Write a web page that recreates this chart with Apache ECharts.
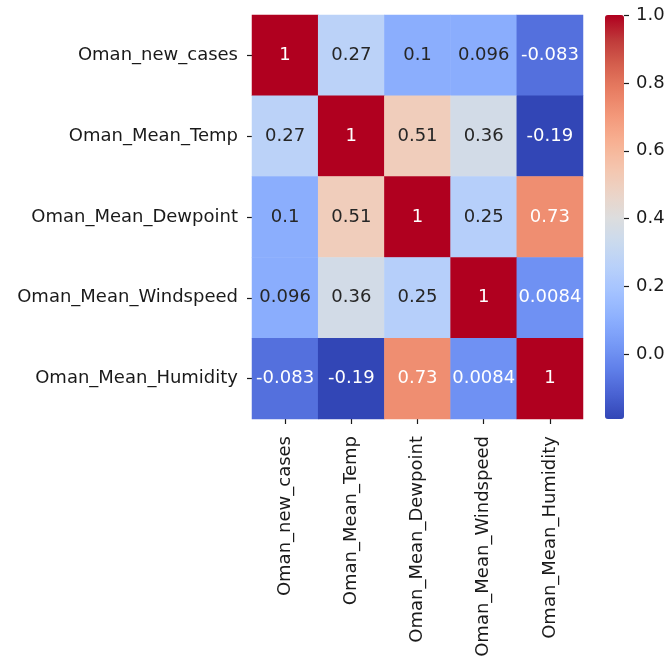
<!DOCTYPE html>
<html>
<head>
<meta charset="utf-8">
<script src="https://cdn.jsdelivr.net/npm/echarts@6/dist/echarts.min.js"></script>
<style>
  html, body { margin: 0; padding: 0; background: #fff; }
  #chart { width: 670px; height: 663px; }
</style>
</head>
<body>
<div id="chart"></div>
<script>
// Variables of the correlation matrix (same order on both axes)
const variables = [
  'Oman_new_cases',
  'Oman_Mean_Temp',
  'Oman_Mean_Dewpoint',
  'Oman_Mean_Windspeed',
  'Oman_Mean_Humidity'
];

// One row of correlation coefficients per variable
const rowNewCases  = [1,      0.27,  0.1,   0.096,  -0.083];
const rowMeanTemp  = [0.27,   1,     0.51,  0.36,   -0.19];
const rowDewpoint  = [0.1,    0.51,  1,     0.25,   0.73];
const rowWindspeed = [0.096,  0.36,  0.25,  1,      0.0084];
const rowHumidity  = [-0.083, -0.19, 0.73,  0.0084, 1];
const matrixRows = [rowNewCases, rowMeanTemp, rowDewpoint, rowWindspeed, rowHumidity];

// Colour bar ticks
const colorbarTicks = [0.0, 0.2, 0.4, 0.6, 0.8, 1.0];

// Diverging "coolwarm" palette, evenly spaced from low to high
const coolwarm = [
  '#3246b6', '#4a63d3', '#6080ea', '#779af7', '#8db0fe', '#a3c2ff',
  '#b8d0fa', '#cadaee', '#dddddd', '#ecd3c5', '#f5c4ac', '#f7b092',
  '#f3987a', '#e87e63', '#d5604e', '#bf3a3a', '#b0001f'
];

const allValues = matrixRows.flat();
const vmin = Math.min(...allValues);
const vmax = Math.max(...allValues);
const n = variables.length;
const cellIndex = variables.map((_, i) => i);

function hexToRgb(h) {
  return [parseInt(h.slice(1, 3), 16), parseInt(h.slice(3, 5), 16), parseInt(h.slice(5, 7), 16)];
}
function colorFor(v) {
  const t = Math.max(0, Math.min(1, (v - vmin) / (vmax - vmin))) * (coolwarm.length - 1);
  const i = Math.min(Math.floor(t), coolwarm.length - 2);
  const f = t - i;
  const a = hexToRgb(coolwarm[i]), b = hexToRgb(coolwarm[i + 1]);
  return a.map((c, k) => c + (b[k] - c) * f);
}
function luminance(rgb) {
  const lin = rgb.map(c => {
    c /= 255;
    return c <= 0.03928 ? c / 12.92 : Math.pow((c + 0.055) / 1.055, 2.4);
  });
  return 0.2126 * lin[0] + 0.7152 * lin[1] + 0.0722 * lin[2];
}

const cells = [];
matrixRows.forEach((row, r) => {
  row.forEach((v, c) => {
    const textColor = luminance(colorFor(v)) > 0.408 ? '#262626' : '#ffffff';
    cells.push({ value: [c, r, v], label: { color: textColor } });
  });
});

const FONT = 'DejaVu Sans';
const TEXT = '#1a1a1a';
const tick = (values) => ({
  show: true, inside: true, length: 5, customValues: values,
  lineStyle: { color: TEXT, width: 1.2 }
});
const chart = echarts.init(document.getElementById('chart'), null, { renderer: 'canvas' });

chart.setOption({
  backgroundColor: '#ffffff',
  animation: false,
  grid: [
    { left: 252, top: 15, width: 331, height: 404 },   // matrix
    { left: 605, top: 15, width: 19, height: 404 },    // colour bar
    { left: 247, top: 15, width: 5, height: 404 },     // row tick strip
    { left: 252, top: 419, width: 331, height: 5 }     // column tick strip
  ],
  xAxis: [
    {
      type: 'category',
      gridIndex: 0,
      data: variables,
      position: 'bottom',
      axisLine: { show: false },
      axisTick: { show: false },
      axisLabel: { rotate: 90, margin: 17, fontFamily: FONT, fontSize: 18, color: TEXT },
      splitLine: { show: false }
    },
    { type: 'value', gridIndex: 1, min: 0, max: 1, show: false },
    { type: 'value', gridIndex: 2, min: 0, max: 1, show: false },
    {
      type: 'value',
      gridIndex: 3,
      position: 'top',
      min: -0.5, max: n - 0.5,
      axisLine: { show: false, onZero: false },
      axisTick: tick(cellIndex),
      axisLabel: { show: false },
      splitLine: { show: false }
    }
  ],
  yAxis: [
    {
      type: 'category',
      gridIndex: 0,
      data: variables,
      inverse: true,
      axisLine: { show: false },
      axisTick: { show: false },
      axisLabel: { margin: 14, fontFamily: FONT, fontSize: 18, color: TEXT },
      splitLine: { show: false }
    },
    {
      type: 'value',
      gridIndex: 1,
      position: 'right',
      min: vmin,
      max: vmax,
      axisLine: { show: false, onZero: false },
      axisTick: { show: true, length: 5, customValues: colorbarTicks, lineStyle: { color: TEXT, width: 1.2 } },
      axisLabel: {
        margin: 12, fontFamily: FONT, fontSize: 18, color: TEXT,
        customValues: colorbarTicks,
        formatter: v => Number(v).toFixed(1)
      },
      splitLine: { show: false }
    },
    {
      type: 'value',
      gridIndex: 2,
      position: 'right',
      inverse: true,
      min: -0.5, max: n - 0.5,
      axisLine: { show: false, onZero: false },
      axisTick: tick(cellIndex),
      axisLabel: { show: false },
      splitLine: { show: false }
    },
    { type: 'value', gridIndex: 3, min: 0, max: 1, show: false }
  ],
  visualMap: {
    type: 'continuous',
    seriesIndex: 0,
    dimension: 2,
    min: vmin,
    max: vmax,
    calculable: false,
    realtime: false,
    orient: 'vertical',
    left: 605,
    top: 15,
    padding: 0,
    itemWidth: 19,
    itemHeight: 404,
    text: null,
    showLabel: false,
    inRange: { color: coolwarm }
  },
  series: [
    {
      type: 'heatmap',
      xAxisIndex: 0,
      yAxisIndex: 0,
      data: cells,
      itemStyle: { borderWidth: 0 },
      label: {
        show: true,
        fontFamily: FONT,
        fontSize: 18,
        formatter: p => String(p.value[2])
      },
      emphasis: { disabled: true }
    },
    {
      // invisible extent holder for the colour-bar axis
      type: 'scatter',
      xAxisIndex: 1, yAxisIndex: 1,
      data: [[0.5, vmin], [0.5, vmax]],
      symbolSize: 0, silent: true, itemStyle: { opacity: 0 }
    },
    {
      // invisible extent holder for the row tick axis
      type: 'scatter',
      xAxisIndex: 2, yAxisIndex: 2,
      data: [[0.5, 0], [0.5, n - 1]],
      symbolSize: 0, silent: true, itemStyle: { opacity: 0 }
    },
    {
      // invisible extent holder for the column tick axis
      type: 'scatter',
      xAxisIndex: 3, yAxisIndex: 3,
      data: [[0, 0.5], [n - 1, 0.5]],
      symbolSize: 0, silent: true, itemStyle: { opacity: 0 }
    }
  ]
});
</script>
</body>
</html>
